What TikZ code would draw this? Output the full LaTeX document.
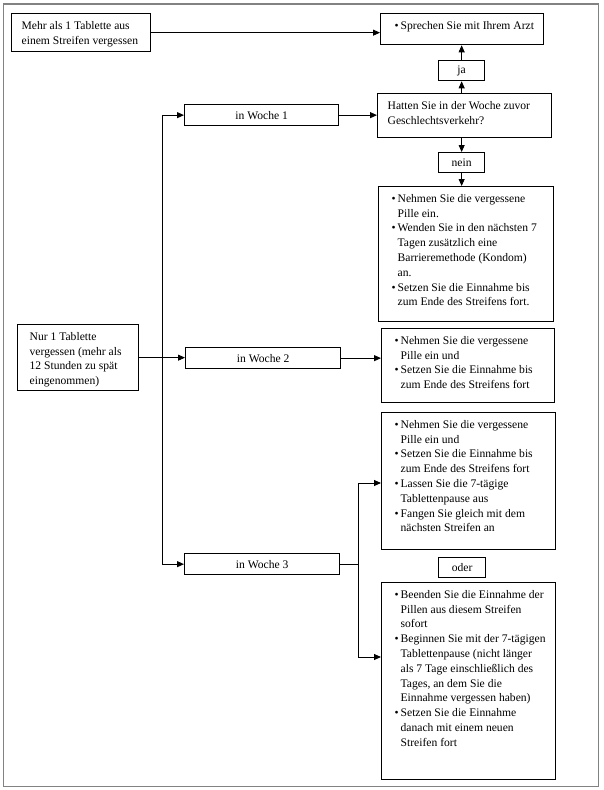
\documentclass[tikz,border=0pt]{standalone}
\usepackage{fontspec}
\setmainfont{Liberation Serif}
\usetikzlibrary{arrows.meta,positioning,calc}
\definecolor{RahmenGrau}{RGB}{130,130,130}
\newcommand{\punkt}{\makebox[6pt][l]{\textbullet}}
\newcommand{\weiter}{\hspace*{6pt}}
\newcommand{\links}[4][10pt]{\parbox[t][#3][t]{#2}{\leftskip=#1\relax\vspace*{7.6pt}#4}}
\tikzset{
  kasten/.style={draw=black, line width=1.3pt, anchor=north west, inner sep=0pt,
                 font=\fontsize{11.6}{14.8}\selectfont},
  mitte/.style={kasten, align=center},
  pfeil/.style={-{Triangle[length=7pt,width=6pt]}, line width=0.9pt},
  linie/.style={line width=0.9pt},
}

\begin{document}
\begin{tikzpicture}[x=1pt, y=-1pt]
  \useasboundingbox (0,0) rectangle (604,790);
  \draw[RahmenGrau, line width=1.3pt] (3.5,4) rectangle (598.5,786.5);

  % linke Spalte
  \node[kasten] (mehr) at (11,13) {\links{139pt}{38pt}{Mehr als 1 Tablette aus\\einem Streifen vergessen}};
  \node[kasten] (nur) at (17,324) {\links[12pt]{121pt}{66pt}{Nur 1 Tablette\\vergessen (mehr als\\12 Stunden zu spät\\eingenommen)}};

  % Wochen
  \node[mitte, minimum width=154pt, minimum height=21pt] (w1) at (184,104) {in Woche 1};
  \node[mitte, minimum width=155pt, minimum height=21pt] (w2) at (185,347) {in Woche 2};
  \node[mitte, minimum width=155pt, minimum height=21pt] (w3) at (184,553) {in Woche 3};

  % rechte Spalte
  \node[kasten] (arzt) at (380,13) {\links[14pt]{163pt}{31pt}{\punkt Sprechen Sie mit Ihrem Arzt}};
  \node[mitte, minimum width=46pt, minimum height=20pt] (ja) at (438,60) {ja};
  \node[kasten] (hatten) at (377,93) {\links{174pt}{44pt}{Hatten Sie in der Woche zuvor\\Geschlechtsverkehr?}};
  \node[mitte, minimum width=46pt, minimum height=20pt] (nein) at (438,152) {nein};
  \node[kasten] (n1) at (378,186) {\links[13pt]{175pt}{135pt}{%
    \punkt Nehmen Sie die vergessene\\\weiter Pille ein.\\
    \punkt Wenden Sie in den nächsten 7\\\weiter Tagen zusätzlich eine\\\weiter Barrieremethode (Kondom)\\\weiter an.\\
    \punkt Setzen Sie die Einnahme bis\\\weiter zum Ende des Streifens fort.}};
  \node[kasten] (n2) at (381,328) {\links[13pt]{173pt}{74pt}{%
    \punkt Nehmen Sie die vergessene\\\weiter Pille ein und\\
    \punkt Setzen Sie die Einnahme bis\\\weiter zum Ende des Streifens fort}};
  \node[kasten] (n3) at (381,412) {\links[13pt]{174pt}{137pt}{%
    \punkt Nehmen Sie die vergessene\\\weiter Pille ein und\\
    \punkt Setzen Sie die Einnahme bis\\\weiter zum Ende des Streifens fort\\
    \punkt Lassen Sie die 7-tägige\\\weiter Tablettenpause aus\\
    \punkt Fangen Sie gleich mit dem\\\weiter nächsten Streifen an}};
  \node[mitte, minimum width=47pt, minimum height=20pt] (oder) at (438,557) {oder};
  \node[kasten] (n4) at (381,582) {\links[13pt]{174pt}{197pt}{%
    \punkt Beenden Sie die Einnahme der\\\weiter Pillen aus diesem Streifen\\\weiter sofort\\
    \punkt Beginnen Sie mit der 7-tägigen\\\weiter Tablettenpause (nicht länger\\\weiter als 7 Tage einschließlich des\\\weiter Tages, an dem Sie die\\\weiter Einnahme vergessen haben)\\
    \punkt Setzen Sie die Einnahme\\\weiter danach mit einem neuen\\\weiter Streifen fort}};

  % Verbindungen
  \draw[pfeil] (mehr.east) -- (mehr.east -| arzt.west);
  \draw[pfeil] (ja.north) -- (ja.north |- arzt.south);
  \draw[pfeil] (ja.south |- hatten.north) -- (ja.south);
  \draw[pfeil] (nein.north |- hatten.south) -- (nein.north);
  \draw[pfeil] (nein.south) -- (nein.south |- n1.north);
  \coordinate (stamm) at (162,0);
  \draw[pfeil] (w1.west -| stamm) -- (w1.west);
  \draw[pfeil] (w1.west -| stamm) |- (w3.west);
  \draw[pfeil] (nur.east) -- (nur.east -| w2.west);
  \draw[pfeil] (w1.east) -- (w1.east -| hatten.west);
  \draw[pfeil] (w2.east) -- (w2.east -| n2.west);
  \coordinate (gabel) at (358,483);
  \coordinate (gabelunten) at (358,657);
  \draw[linie] (w3.east) -- (w3.east -| gabel);
  \draw[linie] (gabel) -- (gabelunten);
  \draw[pfeil] (gabel) -- (gabel -| n3.west);
  \draw[pfeil] (gabelunten) -- (gabelunten -| n4.west);
\end{tikzpicture}
\end{document}
